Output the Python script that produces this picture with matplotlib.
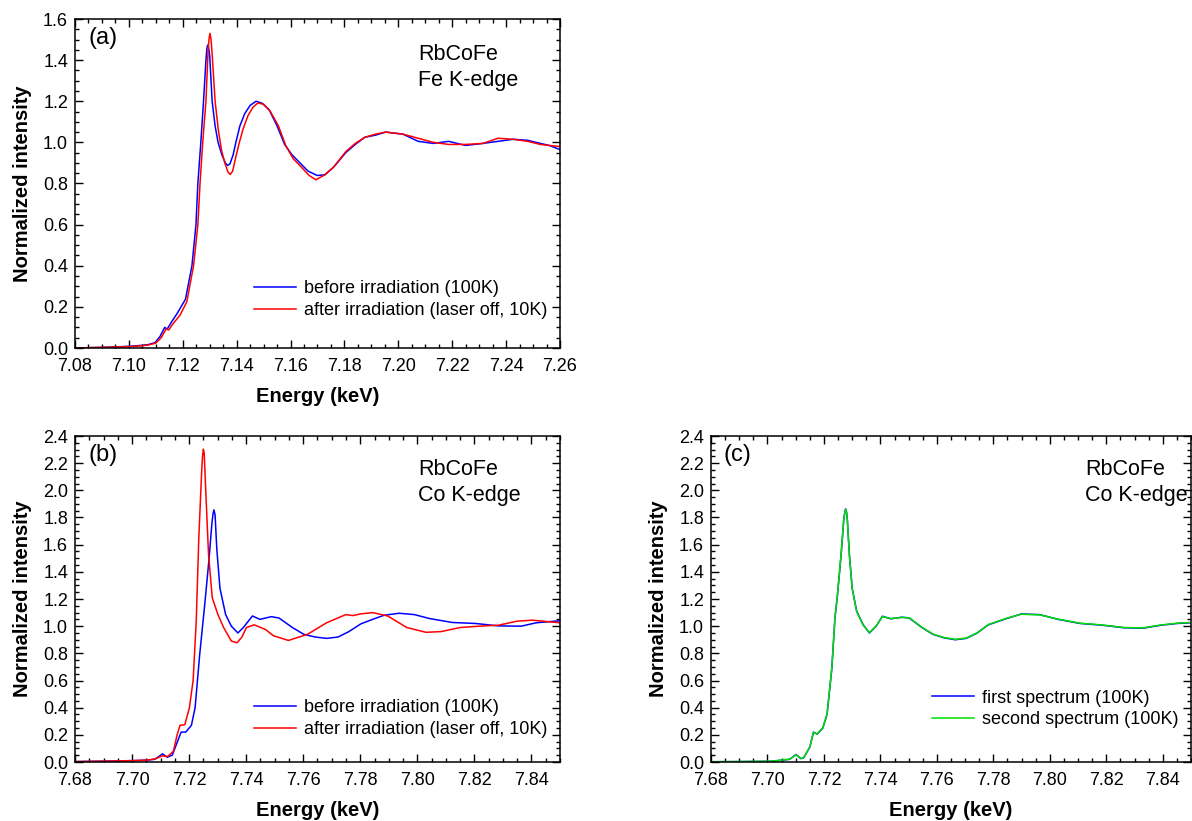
import matplotlib
matplotlib.use("Agg")
import matplotlib.pyplot as plt
from matplotlib.ticker import MultipleLocator, FormatStrFormatter

plt.rcParams['font.family'] = ['Liberation Sans', 'DejaVu Sans']

# ---- (a) Fe K-edge ----
fe_e_before = [7.080, 7.090, 7.100, 7.104, 7.107, 7.1097, 7.1115, 7.1133, 7.1142, 7.116, 7.118,
               7.121, 7.1234, 7.1249, 7.1256, 7.1267, 7.1277, 7.1286, 7.1289, 7.1292, 7.1296,
               7.1300, 7.1309, 7.1320, 7.1331, 7.1345, 7.1358, 7.1366, 7.1375, 7.1387, 7.1397,
               7.1412, 7.1430, 7.1450, 7.1472, 7.1495, 7.1520, 7.1550, 7.1578, 7.1605, 7.1635,
               7.1665, 7.1699, 7.1727, 7.1760, 7.1805, 7.1840, 7.1876, 7.1915, 7.1953, 7.2017,
               7.2074, 7.2130, 7.2187, 7.2250, 7.2314, 7.2370, 7.2427, 7.2480, 7.2527, 7.2560,
               7.2600]
fe_before = [0.000, 0.003, 0.008, 0.012, 0.016, 0.026, 0.055, 0.100, 0.092, 0.130, 0.170,
             0.237, 0.400, 0.600, 0.800, 1.000, 1.200, 1.400, 1.450, 1.473, 1.460,
             1.420, 1.200, 1.080, 1.000, 0.940, 0.900, 0.888, 0.895, 0.940, 1.000,
             1.080, 1.140, 1.180, 1.200, 1.190, 1.160, 1.080, 0.990, 0.940, 0.900,
             0.860, 0.839, 0.842, 0.880, 0.950, 0.990, 1.025, 1.035, 1.050, 1.040,
             1.005, 0.995, 1.005, 0.985, 0.995, 1.005, 1.015, 1.010, 0.995, 0.985,
             0.965]

fe_e_after = [7.080, 7.090, 7.100, 7.104, 7.107, 7.110, 7.112, 7.1138, 7.1148, 7.1165, 7.119,
              7.1215, 7.1240, 7.1256, 7.1264, 7.1274, 7.1286, 7.1294, 7.1298, 7.1301, 7.1305,
              7.1309, 7.1320, 7.1332, 7.1344, 7.1356, 7.1368, 7.1376, 7.1385, 7.1397, 7.1410,
              7.1425, 7.1442, 7.1460, 7.1479, 7.1500, 7.1525, 7.1555, 7.1582, 7.1610, 7.1640,
              7.1668, 7.1694, 7.1727, 7.1760, 7.1805, 7.1840, 7.1876, 7.1915, 7.1953, 7.2017,
              7.2074, 7.2130, 7.2187, 7.2250, 7.2314, 7.2370, 7.2427, 7.2480, 7.2527, 7.2560,
              7.2600]
fe_after = [0.000, 0.003, 0.007, 0.010, 0.014, 0.024, 0.050, 0.092, 0.088, 0.120, 0.160,
            0.225, 0.400, 0.600, 0.800, 1.000, 1.200, 1.450, 1.510, 1.530, 1.500,
            1.430, 1.200, 1.060, 0.960, 0.900, 0.855, 0.844, 0.860, 0.930, 1.000,
            1.070, 1.130, 1.170, 1.192, 1.185, 1.150, 1.080, 0.985, 0.920, 0.880,
            0.840, 0.818, 0.842, 0.880, 0.955, 0.995, 1.025, 1.040, 1.050, 1.040,
            1.020, 1.000, 0.990, 0.990, 0.995, 1.020, 1.015, 1.005, 0.990, 0.985,
            0.980]

# ---- (b) Co K-edge, before / after irradiation ----
co_e_before = [7.680, 7.690, 7.700, 7.705, 7.708, 7.7107, 7.7123, 7.7141, 7.7161, 7.7172,
               7.7188, 7.7208, 7.7221, 7.7237, 7.7250, 7.7258, 7.7270, 7.7280, 7.7284, 7.7287,
               7.7291, 7.7297, 7.7308, 7.7328, 7.7348, 7.7371, 7.7390, 7.7422, 7.7448, 7.7488,
               7.7515, 7.7562, 7.7602, 7.7642, 7.7682, 7.7722, 7.7760, 7.7802, 7.7843, 7.7883,
               7.7936, 7.7990, 7.8043, 7.8123, 7.8203, 7.8284, 7.8364, 7.8417, 7.8500]
co_before = [0.003, 0.006, 0.010, 0.013, 0.020, 0.060, 0.035, 0.050, 0.160, 0.220,
             0.220, 0.270, 0.400, 0.790, 1.060, 1.230, 1.500, 1.760, 1.830, 1.856,
             1.820, 1.570, 1.280, 1.085, 1.000, 0.950, 0.990, 1.075, 1.050, 1.070,
             1.060, 0.990, 0.940, 0.920, 0.910, 0.920, 0.960, 1.017, 1.050, 1.080,
             1.095, 1.085, 1.056, 1.027, 1.020, 1.002, 1.000, 1.025, 1.040]

co_e_after = [7.680, 7.690, 7.700, 7.705, 7.708, 7.7105, 7.7125, 7.7145, 7.7158, 7.7168,
              7.7185, 7.7201, 7.7214, 7.7225, 7.7234, 7.7244, 7.7247, 7.7250, 7.7253, 7.7258,
              7.7268, 7.7281, 7.7301, 7.7321, 7.7348, 7.7368, 7.7385, 7.7401, 7.7428, 7.7468,
              7.7495, 7.7548, 7.7615, 7.7682, 7.7749, 7.7775, 7.7800, 7.7843, 7.7896, 7.7963,
              7.8030, 7.8083, 7.8150, 7.8217, 7.8284, 7.8350, 7.8404, 7.8500]
co_after = [0.003, 0.006, 0.010, 0.014, 0.022, 0.045, 0.040, 0.080, 0.200, 0.270,
            0.275, 0.400, 0.600, 1.040, 1.650, 2.140, 2.250, 2.303, 2.270, 2.010,
            1.530, 1.210, 1.085, 0.990, 0.890, 0.878, 0.920, 0.990, 1.010, 0.975,
            0.930, 0.895, 0.940, 1.025, 1.085, 1.078, 1.090, 1.100, 1.075, 0.990,
            0.955, 0.960, 0.990, 1.000, 1.007, 1.037, 1.044, 1.025]

# ---- (c) Co K-edge, two successive spectra ----
co_e_first = [7.680, 7.690, 7.7013, 7.7079, 7.7101, 7.7118, 7.7128, 7.7150, 7.7163, 7.7176,
              7.7196, 7.7211, 7.7228, 7.7239, 7.7248, 7.7261, 7.7270, 7.7274, 7.7277, 7.7280,
              7.7283, 7.7290, 7.7300, 7.7316, 7.7339, 7.7361, 7.7385, 7.7407, 7.7437, 7.7476,
              7.7502, 7.7547, 7.7586, 7.7626, 7.7665, 7.7704, 7.7743, 7.7782, 7.7847, 7.7899,
              7.7964, 7.8029, 7.8107, 7.8185, 7.8264, 7.8329, 7.8394, 7.8452, 7.8500]
co_first = [0.002, 0.003, 0.005, 0.020, 0.055, 0.025, 0.030, 0.110, 0.220, 0.205,
            0.250, 0.350, 0.690, 1.060, 1.230, 1.530, 1.780, 1.840, 1.863, 1.840,
            1.780, 1.530, 1.280, 1.110, 1.010, 0.950, 1.000, 1.073, 1.054, 1.066,
            1.060, 0.990, 0.940, 0.914, 0.900, 0.910, 0.950, 1.010, 1.056, 1.090,
            1.085, 1.050, 1.020, 1.007, 0.988, 0.985, 1.007, 1.020, 1.025]

co_e_second = co_e_first
co_second = [0.002, 0.003, 0.006, 0.021, 0.053, 0.026, 0.031, 0.112, 0.218, 0.207,
             0.252, 0.352, 0.695, 1.065, 1.235, 1.535, 1.785, 1.838, 1.860, 1.836,
             1.775, 1.525, 1.275, 1.105, 1.008, 0.952, 1.002, 1.070, 1.056, 1.064,
             1.062, 0.992, 0.942, 0.916, 0.903, 0.912, 0.952, 1.012, 1.058, 1.088,
             1.083, 1.052, 1.022, 1.009, 0.990, 0.987, 1.009, 1.022, 1.027]

W, H = 1192, 821
fig = plt.figure(figsize=(W / 100, H / 100), dpi=100)


def box(x0, y0, x1, y1):
    # pixel box (top-left origin) -> figure fraction rect
    return [x0 / W, 1 - y1 / H, (x1 - x0) / W, (y1 - y0) / H]


ax_a = fig.add_axes(box(75, 19, 560, 348))
ax_b = fig.add_axes(box(75, 436, 560, 762))
ax_c = fig.add_axes(box(711, 436, 1191, 762))


def style(ax, xlim, ylim):
    ax.set_xlim(*xlim)
    ax.set_ylim(*ylim)
    ax.xaxis.set_major_locator(MultipleLocator(0.02))
    ax.xaxis.set_minor_locator(MultipleLocator(0.005))
    ax.yaxis.set_major_locator(MultipleLocator(0.2))
    ax.yaxis.set_minor_locator(MultipleLocator(0.05))
    ax.xaxis.set_major_formatter(FormatStrFormatter('%.2f'))
    ax.yaxis.set_major_formatter(FormatStrFormatter('%.1f'))
    ax.tick_params(which='both', direction='in', top=True, right=True, labelsize=13, width=1.0)
    ax.tick_params(which='major', length=6)
    ax.tick_params(axis='x', which='major', pad=7)
    ax.tick_params(axis='y', which='major', pad=5)
    ax.tick_params(which='minor', length=3)
    for s in ax.spines.values():
        s.set_linewidth(1.1)
    ax.set_xlabel('Energy (keV)', fontsize=14.5, fontweight='bold', labelpad=9)
    ax.set_ylabel('Normalized intensity', fontsize=14.5, fontweight='bold', labelpad=8)


legend_kw = dict(frameon=False, fontsize=13, handlelength=2.3, handletextpad=0.45,
                 labelspacing=0.25, borderaxespad=0.3, loc='lower right')

# (a)
ax_a.plot(fe_e_before, fe_before, color='#0000ff', lw=1.1, label='before irradiation (100K)')
ax_a.plot(fe_e_after, fe_after, color='#ff0000', lw=1.1, label='after irradiation (laser off, 10K)')
style(ax_a, (7.08, 7.26), (0.0, 1.6))
ax_a.legend(bbox_to_anchor=(1.0, 0.05), **legend_kw)
ax_a.text(0.027, 0.975, '(a)', transform=ax_a.transAxes, fontsize=17, va='top', ha='left')
ax_a.text(0.707, 0.925, 'RbCoFe\nFe K-edge', transform=ax_a.transAxes, fontsize=15.5,
          va='top', ha='left', multialignment='left', linespacing=1.35)

# (b)
ax_b.plot(co_e_before, co_before, color='#0000ff', lw=1.1, label='before irradiation (100K)')
ax_b.plot(co_e_after, co_after, color='#ff0000', lw=1.1, label='after irradiation (laser off, 10K)')
style(ax_b, (7.68, 7.85), (0.0, 2.4))
ax_b.legend(bbox_to_anchor=(1.0, 0.035), **legend_kw)
ax_b.text(0.027, 0.975, '(b)', transform=ax_b.transAxes, fontsize=17, va='top', ha='left')
ax_b.text(0.707, 0.93, 'RbCoFe\nCo K-edge', transform=ax_b.transAxes, fontsize=15.5,
          va='top', ha='left', multialignment='left', linespacing=1.35)

# (c)
ax_c.plot(co_e_first, co_first, color='#0000ff', lw=1.1, label='first spectrum (100K)')
ax_c.plot(co_e_second, co_second, color='#00e000', lw=1.1, label='second spectrum (100K)')
style(ax_c, (7.68, 7.85), (0.0, 2.4))
ax_c.legend(bbox_to_anchor=(1.0, 0.065), **legend_kw)
ax_c.text(0.027, 0.975, '(c)', transform=ax_c.transAxes, fontsize=17, va='top', ha='left')
ax_c.text(0.78, 0.93, 'RbCoFe\nCo K-edge', transform=ax_c.transAxes, fontsize=15.5,
          va='top', ha='left', multialignment='left', linespacing=1.35)

fig.savefig('out.png', dpi=100)
